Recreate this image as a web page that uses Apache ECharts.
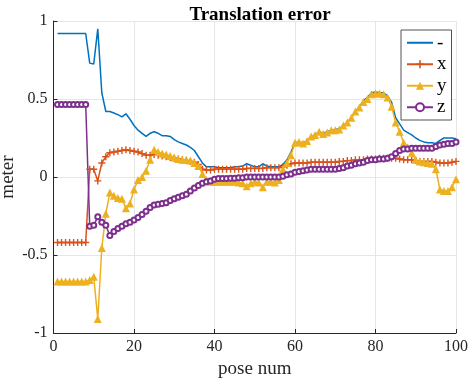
<!DOCTYPE html>
<html>
<head>
<meta charset="utf-8">
<script src="https://cdn.jsdelivr.net/npm/echarts@6/dist/echarts.min.js"></script>
<style>
  html, body { margin: 0; padding: 0; background: #fff; }
  #main { width: 471px; height: 382px; }
</style>
</head>
<body>
<div id="main"></div>
<script>
// init chart
const myChart = echarts.init(document.getElementById('main'));

// Series names
var names = ['-', 'x', 'y', 'z'];

// error norm, pose 1..100
var normErr = [
  0.92, 0.92, 0.92, 0.92, 0.92, 0.92, 0.92, 0.92, 0.73, 0.725,
  0.95, 0.54, 0.42, 0.42, 0.41, 0.40, 0.385, 0.405, 0.37, 0.33,
  0.30, 0.28, 0.26, 0.28, 0.29, 0.28, 0.265, 0.265, 0.26, 0.24,
  0.225, 0.215, 0.205, 0.19, 0.17, 0.13, 0.09, 0.065, 0.065, 0.065,
  0.06, 0.06, 0.06, 0.06, 0.065, 0.065, 0.07, 0.085, 0.075, 0.065,
  0.065, 0.085, 0.07, 0.065, 0.065, 0.065, 0.08, 0.11, 0.16, 0.22,
  0.225, 0.22, 0.23, 0.26, 0.27, 0.29, 0.28, 0.29, 0.30, 0.305,
  0.31, 0.33, 0.35, 0.38, 0.42, 0.45, 0.49, 0.51, 0.54, 0.545,
  0.54, 0.54, 0.52, 0.48, 0.38, 0.34, 0.30, 0.285, 0.27, 0.25,
  0.235, 0.225, 0.22, 0.22, 0.215, 0.235, 0.25, 0.25, 0.25, 0.245
];

var xErr = [
  -0.42, -0.42, -0.42, -0.42, -0.42, -0.42, -0.42, -0.42, 0.05, 0.05,
  -0.025, 0.09, 0.13, 0.155, 0.16, 0.165, 0.17, 0.175, 0.17, 0.165,
  0.16, 0.15, 0.14, 0.14, 0.145, 0.14, 0.135, 0.13, 0.125, 0.12,
  0.115, 0.11, 0.105, 0.10, 0.095, 0.08, 0.05, 0.045, 0.045, 0.05,
  0.05, 0.05, 0.05, 0.05, 0.05, 0.05, 0.05, 0.055, 0.055, 0.055,
  0.055, 0.055, 0.06, 0.06, 0.06, 0.06, 0.065, 0.075, 0.085, 0.09,
  0.09, 0.09, 0.09, 0.095, 0.095, 0.095, 0.095, 0.095, 0.095, 0.095,
  0.10, 0.10, 0.105, 0.105, 0.11, 0.11, 0.11, 0.115, 0.115, 0.115,
  0.12, 0.12, 0.12, 0.12, 0.12, 0.115, 0.11, 0.11, 0.11, 0.105,
  0.10, 0.10, 0.10, 0.10, 0.095, 0.09, 0.09, 0.09, 0.095, 0.10
];

var yErr = [
  -0.67, -0.67, -0.67, -0.67, -0.67, -0.67, -0.67, -0.67, -0.66, -0.64,
  -0.91, -0.455, -0.235, -0.10, -0.12, -0.135, -0.14, -0.20, -0.17, -0.08,
  -0.02, 0.0, 0.04, 0.11, 0.175, 0.16, 0.15, 0.145, 0.135, 0.125,
  0.115, 0.11, 0.11, 0.105, 0.09, 0.07, 0.02, -0.02, -0.03, -0.03,
  -0.03, -0.03, -0.03, -0.03, -0.03, -0.035, -0.04, -0.06, -0.04, -0.03,
  -0.035, -0.065, -0.03, -0.03, -0.035, -0.02, 0.05, 0.09, 0.14, 0.22,
  0.225, 0.215, 0.23, 0.26, 0.27, 0.29, 0.275, 0.285, 0.30, 0.30,
  0.305, 0.33, 0.35, 0.38, 0.42, 0.445, 0.48, 0.50, 0.53, 0.535,
  0.535, 0.53, 0.51, 0.45, 0.35, 0.29, 0.22, 0.19, 0.155, 0.11,
  0.10, 0.095, 0.09, 0.085, 0.05, -0.08, -0.09, -0.09, -0.065, -0.015
];

var zErr = [
  0.465, 0.465, 0.465, 0.465, 0.465, 0.465, 0.465, 0.465, -0.315, -0.31,
  -0.255, -0.29, -0.31, -0.375, -0.35, -0.33, -0.315, -0.30, -0.29, -0.275,
  -0.26, -0.24, -0.22, -0.195, -0.18, -0.175, -0.17, -0.165, -0.15, -0.14,
  -0.13, -0.12, -0.11, -0.09, -0.07, -0.055, -0.04, -0.03, -0.025, -0.015,
  -0.01, -0.01, -0.01, -0.008, -0.008, -0.005, -0.005, 0.0, 0.0, 0.0,
  0.0, 0.0, 0.0, 0.0, 0.0, 0.0, 0.005, 0.015, 0.02, 0.03,
  0.035, 0.04, 0.045, 0.05, 0.05, 0.05, 0.05, 0.05, 0.05, 0.05,
  0.055, 0.06, 0.07, 0.075, 0.085, 0.09, 0.095, 0.105, 0.11, 0.11,
  0.115, 0.115, 0.12, 0.13, 0.15, 0.17, 0.18, 0.18, 0.185, 0.185,
  0.185, 0.185, 0.185, 0.185, 0.195, 0.205, 0.21, 0.215, 0.215, 0.225
];

var colors = ['#0072BD', '#D95319', '#EDB120', '#7E2F8E'];
var serif = '"Liberation Serif", "DejaVu Serif", serif';
var plusPath = 'path://M4,0h2v4h4v2h-4v4h-2v-4h-4v-2h4z';

function toPoints(arr) {
  var pts = [];
  for (var i = 0; i < arr.length; i++) {
    pts.push([i + 1, arr[i]]);
  }
  return pts;
}

var option = {
  animation: false,
  backgroundColor: '#fff',
  color: colors,
  title: {
    text: 'Translation error',
    left: 255,
    textAlign: 'center',
    top: 1,
    textStyle: { fontFamily: serif, fontSize: 19, fontWeight: 'bold', color: '#000' }
  },
  legend: {
    orient: 'vertical',
    left: 401,
    top: 30,
    padding: [2, 5, 2, 5],
    itemWidth: 26,
    itemHeight: 10,
    itemGap: 0,
    backgroundColor: '#fff',
    borderColor: '#262626',
    borderWidth: 0.8,
    textStyle: { fontFamily: serif, fontSize: 19, color: '#000', lineHeight: 21.5, padding: [0, 0, 0, -1] },
    data: [
      { name: '-', itemStyle: { opacity: 0 } },
      'x', 'y', 'z'
    ]
  },
  grid: { left: 53.5, right: 15, top: 21, bottom: 49, containLabel: false, outerBoundsMode: 'none' },
  xAxis: {
    type: 'value',
    min: 0, max: 100, interval: 20,
    name: 'pose num',
    nameLocation: 'middle',
    nameGap: 27,
    nameMoveOverlap: false,
    nameTextStyle: { fontFamily: serif, fontSize: 19, color: '#262626' },
    axisLine: { onZero: false, lineStyle: { color: '#262626', width: 1 } },
    axisTick: { inside: true, length: 4, lineStyle: { color: '#262626' } },
    axisLabel: { fontFamily: serif, fontSize: 16, color: '#262626', margin: 6 },
    splitLine: { show: true, lineStyle: { color: '#e6e6e6', width: 1 } }
  },
  yAxis: {
    type: 'value',
    min: -1, max: 1, interval: 0.5,
    name: 'meter',
    nameLocation: 'middle',
    nameGap: 36,
    nameMoveOverlap: false,
    nameTextStyle: { fontFamily: serif, fontSize: 19, color: '#262626' },
    axisLine: { show: true, lineStyle: { color: '#262626', width: 1 } },
    axisTick: { show: true, inside: true, length: 4, lineStyle: { color: '#262626' } },
    axisLabel: { fontFamily: serif, fontSize: 16, color: '#262626', margin: 6 },
    splitLine: { show: true, lineStyle: { color: '#e6e6e6', width: 1 } }
  },
  series: [
    {
      name: '-', type: 'line', data: toPoints(normErr),
      showSymbol: false, symbol: 'none',
      lineStyle: { width: 1.5, color: colors[0] }
    },
    {
      name: 'x', type: 'line', data: toPoints(xErr),
      symbol: plusPath, symbolSize: 7,
      itemStyle: { color: colors[1] },
      lineStyle: { width: 1.5, color: colors[1] }
    },
    {
      name: 'y', type: 'line', data: toPoints(yErr),
      symbol: 'triangle', symbolSize: 8,
      itemStyle: { color: colors[2] },
      lineStyle: { width: 1.5, color: colors[2] }
    },
    {
      name: 'z', type: 'line', data: toPoints(zErr),
      symbol: 'emptyCircle', symbolSize: 5,
      itemStyle: { color: colors[3], borderWidth: 1.2 },
      lineStyle: { width: 1.5, color: colors[3] }
    }
  ]
};

myChart.setOption(option);
</script>
</body>
</html>
